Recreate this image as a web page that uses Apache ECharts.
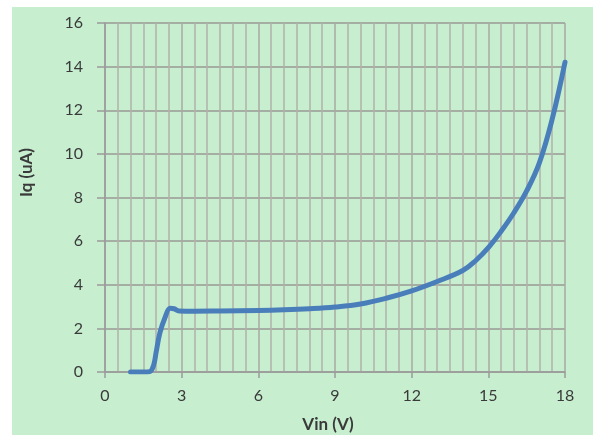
<!DOCTYPE html>
<html>
<head>
<meta charset="utf-8">
<script src="https://cdn.jsdelivr.net/npm/echarts@6/dist/echarts.min.js"></script>
<style>
html,body{margin:0;padding:0;background:#ffffff;width:593px;height:435px;overflow:hidden;}
#chart{position:absolute;left:12px;top:7px;width:581px;height:428px;}
</style>
</head>
<body>
<div id="chart"></div>
<script>
const vin = [1, 1.5, 1.75, 1.9, 2.0, 2.15, 2.35, 2.55, 2.7, 2.9, 3.5, 4.5, 6, 7, 8, 9, 10, 11, 12, 13, 14, 14.5, 15, 15.5, 16, 16.5, 17, 17.5, 18];
const iq  = [0, 0, 0.02, 0.3, 0.9, 1.8, 2.5, 2.92, 2.9, 2.8, 2.79, 2.8, 2.82, 2.85, 2.9, 2.98, 3.12, 3.38, 3.72, 4.15, 4.65, 5.1, 5.7, 6.45, 7.3, 8.3, 9.6, 11.6, 14.2];
const xTitle = 'Vin (V)';
const yTitle = 'Iq (uA)';

const chart = echarts.init(document.getElementById('chart'));
const txt = '#3a3a3a';
chart.setOption({
  backgroundColor: '#c6eecf',
  animation: false,
  grid: {left: 93, right: 28, top: 16, bottom: 63, containLabel: false, outerBoundsMode: 'none'},
  xAxis: {
    type: 'value', min: 0, max: 18, interval: 3,
    name: xTitle, nameLocation: 'middle', nameGap: 44,
    nameTextStyle: {fontFamily: 'Lato', fontWeight: 'bold', fontSize: 17, color: txt, padding: [0, 14, 0, 0]},
    axisLine: {show: true, lineStyle: {color: '#9a9a9a', width: 1.5}},
    axisTick: {show: true, length: 6, lineStyle: {color: '#9a9a9a', width: 1.5}},
    axisLabel: {fontFamily: 'Lato', fontSize: 16, color: txt, margin: 16},
    splitLine: {show: true, lineStyle: {color: '#a9a9a2', width: 1.5}},
    minorTick: {show: false, splitNumber: 6},
    minorSplitLine: {show: true, lineStyle: {color: '#b3b3ab', width: 1.5}}
  },
  yAxis: {
    type: 'value', min: 0, max: 16, interval: 2,
    name: yTitle, nameLocation: 'middle', nameGap: 70,
    nameTextStyle: {fontFamily: 'Lato', fontWeight: 'bold', fontSize: 17, color: txt, padding: [0, 0, 0, 50]},
    axisLine: {show: true, lineStyle: {color: '#9a9a9a', width: 1.5}},
    axisTick: {show: true, length: 8, lineStyle: {color: '#9a9a9a', width: 1.5}},
    axisLabel: {fontFamily: 'Lato', fontSize: 16, color: txt, margin: 22},
    splitLine: {show: true, lineStyle: {color: '#999993', width: 1.5}}
  },
  series: [{
    type: 'line',
    data: vin.map((v, i) => [v, iq[i]]),
    showSymbol: false,
    smooth: 0.4,
    lineStyle: {color: '#4a7ebb', width: 5, cap: 'round', join: 'round'}
  }]
});
</script>
</body>
</html>
